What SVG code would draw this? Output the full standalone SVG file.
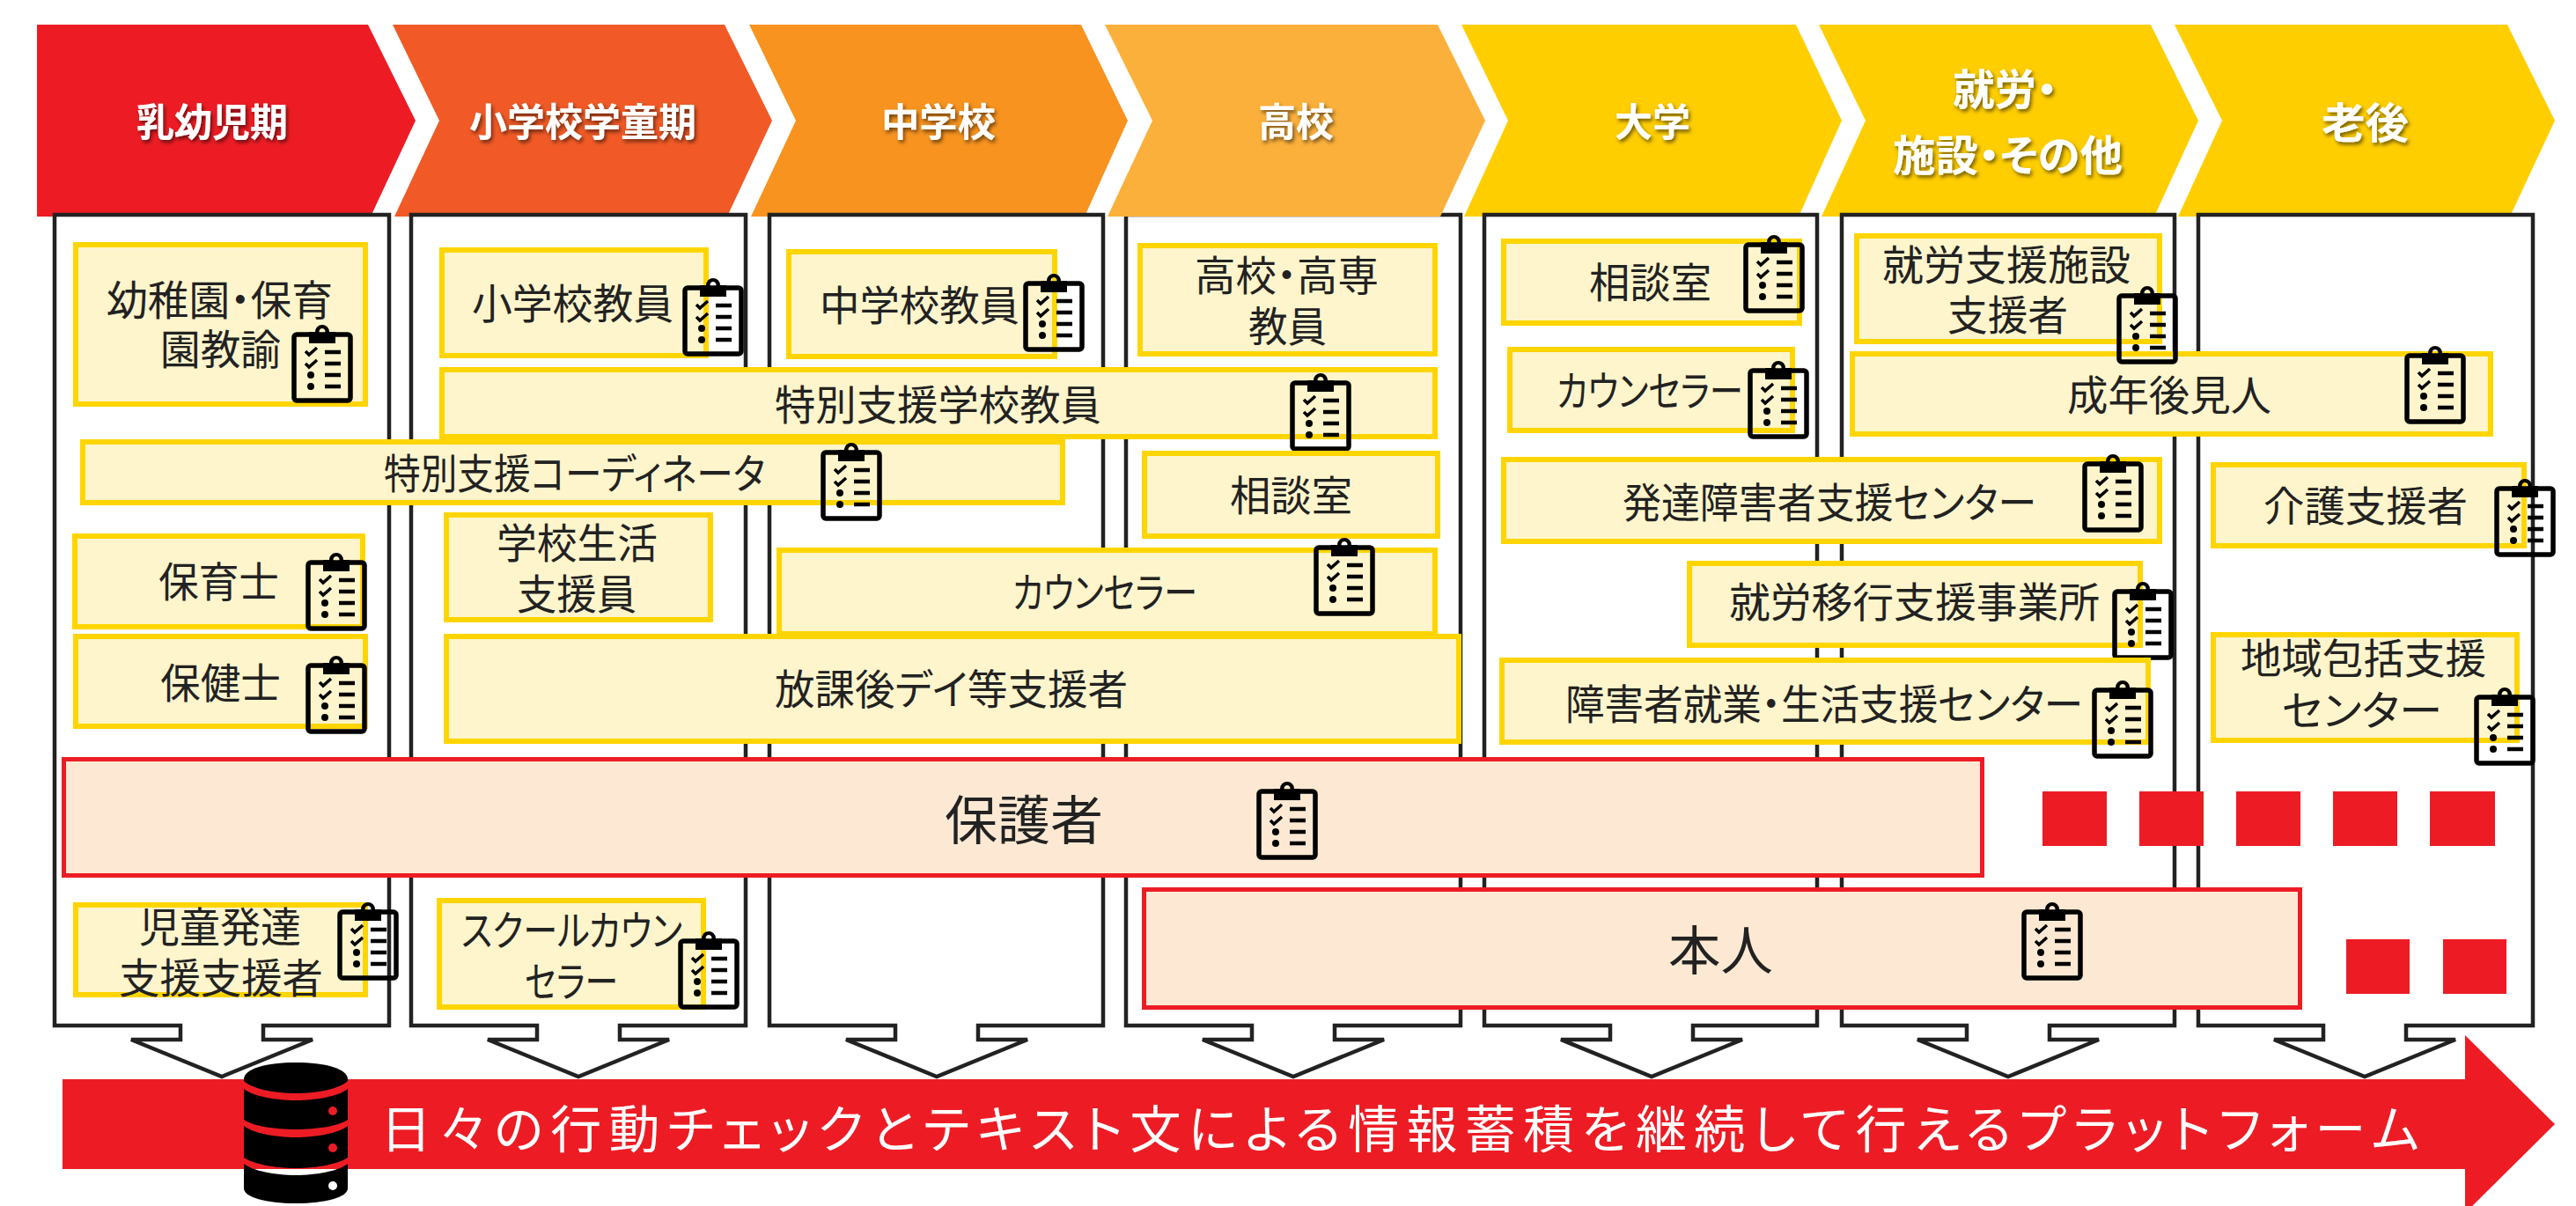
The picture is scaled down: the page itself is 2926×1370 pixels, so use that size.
<svg xmlns="http://www.w3.org/2000/svg" width="2926" height="1370" viewBox="0 0 2926 1370">
<style>
text{font-family:"Noto Sans CJK JP","Noto Sans CJK SC",sans-serif;dominant-baseline:central;font-feature-settings:"palt";transform:translateY(-3px);}
.lb{font-size:47px;fill:#222;}
.big{font-size:60px;fill:#222;}
.hd{font-size:44px;font-weight:700;fill:#fff;filter:url(#sh);}
.hd2{font-size:48px;font-weight:700;fill:#fff;filter:url(#sh);}
.ft{font-size:58px;fill:#fff;}
.panel{fill:#fff;stroke:#222;stroke-width:4.5;stroke-linejoin:miter;}
.box{fill:#FFF5CC;stroke:#FFD500;stroke-width:6;}
.rbox{fill:#FDE9D3;stroke:#ED1C24;stroke-width:5;}
.sq{fill:#ED1C24;}
.ic{fill:none;stroke:#000;stroke-width:5.500;}
.ik{fill:#000;}
</style>
<defs>
<filter id="sh" x="-10%" y="-20%" width="120%" height="140%"><feDropShadow dx="2" dy="3" stdDeviation="2" flood-color="#000" flood-opacity="0.55"/></filter>
<g id="clip" transform="translate(-2,-2)">
<rect class="ic" x="3" y="12" width="64" height="75" rx="3"/>
<path class="ik" fill-rule="evenodd" d="M20 9h7a8 8 0 0 1 16 0h7v13H20zM35 5a3.500 3.500 0 1 0 .01 0z"/>
<path d="M16 31l4 4 9-8M16 45l4 4 9-8" fill="none" stroke="#000" stroke-width="3.500"/>
<circle class="ik" cx="22" cy="58" r="4"/><circle class="ik" cx="22" cy="71" r="4"/>
<path d="M38 32h18M38 45h18M38 58h18M38 71h18" stroke="#000" stroke-width="4.500" fill="none"/>
</g>
</defs>
<rect width="2926" height="1370" fill="#fff"/>

<g id="panel-4"><polygon class="panel" points="1279,244 1659,244 1659,1165 1516,1165 1516,1181 1572,1181 1469,1223 1366,1181 1422,1181 1422,1165 1279,1165"/></g>

<g id="stage-1"><polygon fill="#ED1C24" points="42,28 418,28 472,137 421,246 42,246"/><text class="hd" x="155" y="139" textLength="172" lengthAdjust="spacingAndGlyphs">乳幼児期</text></g>
<g id="stage-2"><polygon fill="#F15A26" points="446,28 823,28 877,137 826,246 448,246 499,137"/><text class="hd" x="533" y="139" textLength="258" lengthAdjust="spacingAndGlyphs">小学校学童期</text></g>
<g id="stage-3"><polygon fill="#F8931F" points="851,28 1228,28 1281,137 1232,246 853,246 904,137"/><text class="hd" x="1001" y="139" textLength="130" lengthAdjust="spacingAndGlyphs">中学校</text></g>
<g id="stage-4"><polygon fill="#FBB03B" points="1255,28 1633,28 1687,137 1636,246 1258,246 1309,137"/><text class="hd" x="1429" y="139" textLength="86" lengthAdjust="spacingAndGlyphs">高校</text></g>
<g id="stage-5"><polygon fill="#FFCE00" points="1660,28 2040,28 2092,137 2043,246 1663,246 1713,137"/><text class="hd" x="1834" y="139" textLength="86" lengthAdjust="spacingAndGlyphs">大学</text></g>
<g id="stage-6"><polygon fill="#FFCE00" points="2066,28 2443,28 2497,137 2447,246 2069,246 2119,137"/><text class="hd2" x="2218" y="101" textLength="119" lengthAdjust="spacingAndGlyphs">就労・</text><text class="hd2" x="2150" y="176" textLength="261" lengthAdjust="spacingAndGlyphs">施設・その他</text></g>
<g id="stage-7"><polygon fill="#FFCE00" points="2470,28 2848,28 2902,137 2851,246 2474,246 2524,137"/><text class="hd2" x="2637" y="139" textLength="99" lengthAdjust="spacingAndGlyphs">老後</text></g>

<g id="connectors">
<polygon class="panel" points="62,244 442,244 442,1165 299,1165 299,1181 355,1181 252,1223 149,1181 205,1181 205,1165 62,1165"/>
<polygon class="panel" points="467,244 847,244 847,1165 704,1165 704,1181 760,1181 657,1223 554,1181 610,1181 610,1165 467,1165"/>
<polygon class="panel" points="874,244 1253,244 1253,1165 1111,1165 1111,1181 1167,1181 1064,1223 961,1181 1017,1181 1017,1165 874,1165"/>
<polygon class="panel" points="1686,244 2064,244 2064,1165 1923,1165 1923,1181 1979,1181 1876,1223 1773,1181 1829,1181 1829,1165 1686,1165"/>
<polygon class="panel" points="2092,244 2470,244 2470,1165 2328,1165 2328,1181 2384,1181 2281,1223 2178,1181 2234,1181 2234,1165 2092,1165"/>
<polygon class="panel" points="2497,244 2877,244 2877,1165 2733,1165 2733,1181 2789,1181 2686,1223 2583,1181 2639,1181 2639,1165 2497,1165"/>
</g>

<g id="n-youchien"><rect class="box" x="86" y="278" width="329" height="181"/><text class="lb" x="121" y="340" textLength="257" lengthAdjust="spacingAndGlyphs">幼稚園・保育</text><text class="lb" x="182" y="396" textLength="137" lengthAdjust="spacingAndGlyphs">園教諭</text><use href="#clip" x="333" y="370"/></g>
<g id="n-shogaku"><rect class="box" x="502" y="284" width="300" height="120"/><text class="lb" x="536" y="344" textLength="229" lengthAdjust="spacingAndGlyphs">小学校教員</text><use href="#clip" x="777" y="317"/></g>
<g id="n-chugaku"><rect class="box" x="896" y="286" width="302" height="119"/><text class="lb" x="931" y="346" textLength="227" lengthAdjust="spacingAndGlyphs">中学校教員</text><use href="#clip" x="1164" y="312"/></g>
<g id="n-kosen"><rect class="box" x="1295" y="279" width="335" height="123"/><text class="lb" x="1357" y="312" textLength="209" lengthAdjust="spacingAndGlyphs">高校・高専</text><text class="lb" x="1418" y="370" textLength="89" lengthAdjust="spacingAndGlyphs">教員</text></g>
<g id="n-tokubetsu-gakko"><rect class="box" x="502" y="420" width="1128" height="76"/><text class="lb" x="880" y="459" textLength="371" lengthAdjust="spacingAndGlyphs">特別支援学校教員</text><use href="#clip" x="1467" y="425"/></g>
<g id="n-coordinator"><rect class="box" x="94" y="502" width="1113" height="69"/><text class="lb" x="436" y="537" textLength="433" lengthAdjust="spacingAndGlyphs">特別支援コーディネータ</text><use href="#clip" x="934" y="504"/></g>
<g id="n-soudan-4"><rect class="box" x="1300" y="515" width="333" height="94"/><text class="lb" x="1397" y="562" textLength="139" lengthAdjust="spacingAndGlyphs">相談室</text></g>
<g id="n-hoikushi"><rect class="box" x="85" y="609" width="327" height="103"/><text class="lb" x="180" y="660" textLength="137" lengthAdjust="spacingAndGlyphs">保育士</text><use href="#clip" x="349" y="629"/></g>
<g id="n-hokenshi"><rect class="box" x="86" y="723" width="329" height="102"/><text class="lb" x="182" y="775" textLength="137" lengthAdjust="spacingAndGlyphs">保健士</text><use href="#clip" x="349" y="746"/></g>
<g id="n-seikatsu"><rect class="box" x="507" y="585" width="300" height="119"/><text class="lb" x="564" y="616" textLength="183" lengthAdjust="spacingAndGlyphs">学校生活</text><text class="lb" x="587" y="674" textLength="136" lengthAdjust="spacingAndGlyphs">支援員</text></g>
<g id="n-counselor-34"><rect class="box" x="885" y="625" width="745" height="95"/><text class="lb" x="1150" y="672" textLength="210" lengthAdjust="spacingAndGlyphs">カウンセラー</text><use href="#clip" x="1494" y="612"/></g>
<g id="n-houkago"><rect class="box" x="507" y="723" width="1150" height="119"/><text class="lb" x="880" y="782" textLength="401" lengthAdjust="spacingAndGlyphs">放課後デイ等支援者</text></g>

<g id="n-soudan-5"><rect class="box" x="1708" y="274" width="336" height="93"/><text class="lb" x="1805" y="320" textLength="139" lengthAdjust="spacingAndGlyphs">相談室</text><use href="#clip" x="1982" y="268"/></g>
<g id="n-counselor-5"><rect class="box" x="1715" y="397" width="321" height="92"/><text class="lb" x="1768" y="443" textLength="212" lengthAdjust="spacingAndGlyphs">カウンセラー</text><use href="#clip" x="1987" y="411"/></g>
<g id="n-hattatsu"><rect class="box" x="1708" y="522" width="745" height="93"/><text class="lb" x="1843" y="570" textLength="470" lengthAdjust="spacingAndGlyphs">発達障害者支援センター</text><use href="#clip" x="2367" y="517"/></g>
<g id="n-ikou"><rect class="box" x="1919" y="640" width="512" height="93"/><text class="lb" x="1964" y="683" textLength="421" lengthAdjust="spacingAndGlyphs">就労移行支援事業所</text><use href="#clip" x="2401" y="662"/></g>
<g id="n-shugyo"><rect class="box" x="1706" y="750" width="734" height="93"/><text class="lb" x="1778" y="799" textLength="588" lengthAdjust="spacingAndGlyphs">障害者就業・生活支援センター</text><use href="#clip" x="2378" y="774"/></g>
<g id="n-shisetsu"><rect class="box" x="2109" y="268" width="344" height="120"/><text class="lb" x="2138" y="300" textLength="282" lengthAdjust="spacingAndGlyphs">就労支援施設</text><text class="lb" x="2212" y="357" textLength="137" lengthAdjust="spacingAndGlyphs">支援者</text></g>
<g id="n-kouken"><rect class="box" x="2104" y="402" width="725" height="91"/><text class="lb" x="2348" y="448" textLength="232" lengthAdjust="spacingAndGlyphs">成年後見人</text><use href="#clip" x="2733" y="394"/></g>
<g id="icon-shisetsu"><use href="#clip" x="2406" y="326"/></g>
<g id="n-kaigo"><rect class="box" x="2514" y="528" width="353" height="92"/><text class="lb" x="2571" y="574" textLength="232" lengthAdjust="spacingAndGlyphs">介護支援者</text><use href="#clip" x="2835" y="545"/></g>
<g id="n-houkatsu"><rect class="box" x="2514" y="721" width="345" height="120"/><text class="lb" x="2545" y="747" textLength="279" lengthAdjust="spacingAndGlyphs">地域包括支援</text><text class="lb" x="2592" y="806" textLength="182" lengthAdjust="spacingAndGlyphs">センター</text><use href="#clip" x="2812" y="782"/></g>

<g id="n-jido"><rect class="box" x="86" y="1028" width="329" height="102"/><text class="lb" x="158" y="1052" textLength="184" lengthAdjust="spacingAndGlyphs">児童発達</text><text class="lb" x="135" y="1110" textLength="232" lengthAdjust="spacingAndGlyphs">支援支援者</text><use href="#clip" x="385" y="1026"/></g>
<g id="n-school"><rect class="box" x="499" y="1023" width="300" height="121"/><text class="lb" x="524" y="1056" textLength="251" lengthAdjust="spacingAndGlyphs">スクールカウン</text><text class="lb" x="596" y="1114" textLength="106" lengthAdjust="spacingAndGlyphs">セラー</text><use href="#clip" x="772" y="1059"/></g>

<g id="n-hogosha"><rect class="rbox" x="72.500" y="862.500" width="2179" height="132"/><text class="big" x="1073" y="930" textLength="180" lengthAdjust="spacingAndGlyphs">保護者</text><use href="#clip" x="1429" y="889"/></g>
<g id="n-honnin"><rect class="rbox" x="1299.500" y="1010.500" width="1313" height="134"/><text class="big" x="1895" y="1078" textLength="119" lengthAdjust="spacingAndGlyphs">本人</text><use href="#clip" x="2298" y="1026"/></g>

<g id="dots-1"><rect class="sq" x="2320" y="899" width="73" height="62"/><rect class="sq" x="2430" y="899" width="73" height="62"/><rect class="sq" x="2540" y="899" width="73" height="62"/><rect class="sq" x="2650" y="899" width="73" height="62"/><rect class="sq" x="2760" y="899" width="74" height="62"/></g>
<g id="dots-2"><rect class="sq" x="2665" y="1067" width="72" height="62"/><rect class="sq" x="2775" y="1067" width="72" height="62"/></g>

<g id="platform"><polygon fill="#ED1C24" points="71,1226 2800,1226 2800,1176 2902,1277 2800,1378 2800,1328 71,1328"/><text class="ft" x="432" y="1282" textLength="2316">日々の行動チェックとテキスト文による情報蓄積を継続して行えるプラットフォーム</text></g>

<g id="database" fill="#000">
<path d="M277 1226C277 1214 303 1207 336 1207S395 1214 395 1226V1228C385 1237 360 1242 336 1242S287 1237 277 1228Z"/>
<path d="M277 1237C287 1245 312 1250 336 1250S385 1245 395 1237V1272C385 1279 360 1283 336 1283S287 1279 277 1272Z"/>
<path d="M277 1279C287 1287 312 1292 336 1292S385 1287 395 1279V1315C385 1322 360 1327 336 1327S287 1322 277 1315Z"/>
<path d="M277 1322C287 1330 312 1335 336 1335S385 1330 395 1322V1350C395 1360 370 1367 336 1367S277 1360 277 1350Z"/>
<circle cx="378" cy="1262" r="5" fill="#ED1C24"/><circle cx="378" cy="1304" r="5" fill="#ED1C24"/><circle cx="378" cy="1347" r="5" fill="#fff"/>
</g>
</svg>
